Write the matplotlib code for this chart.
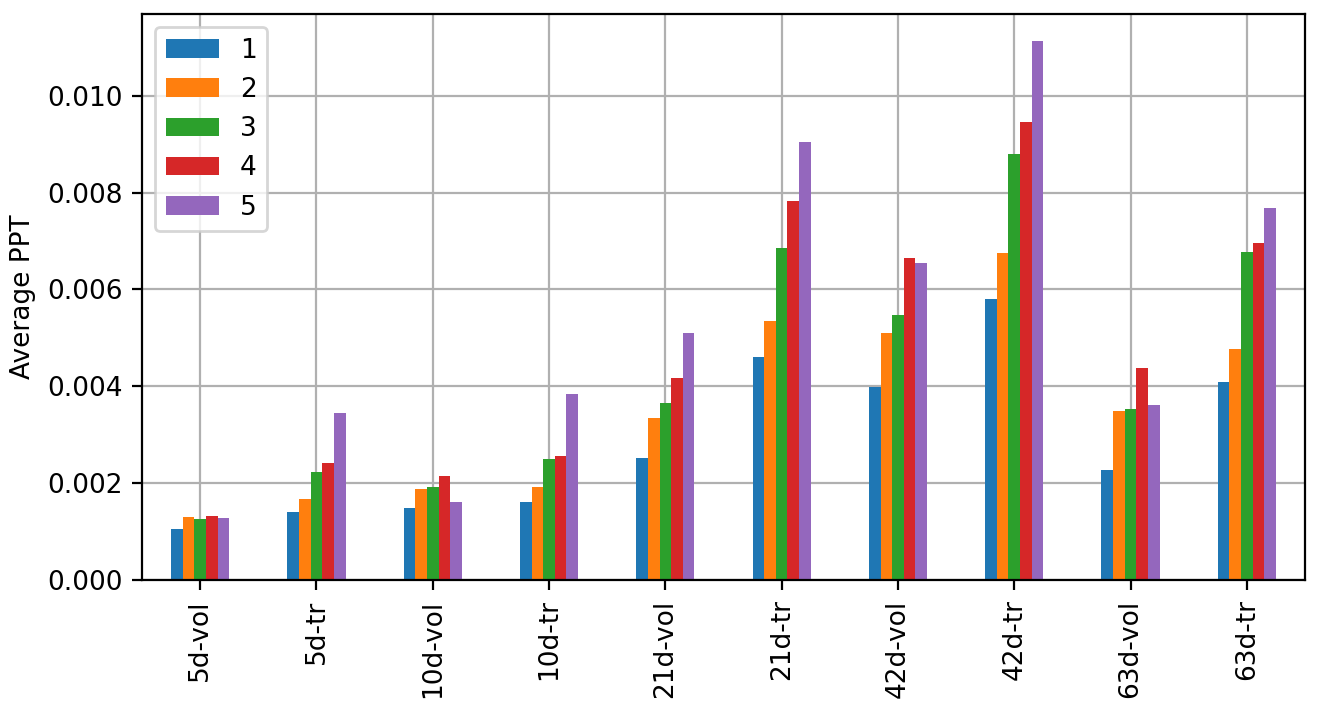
import matplotlib
matplotlib.use("Agg")
import matplotlib.pyplot as plt
import numpy as np

categories = ["5d-vol", "5d-tr", "10d-vol", "10d-tr", "21d-vol", "21d-tr",
              "42d-vol", "42d-tr", "63d-vol", "63d-tr"]
series_names = ["1", "2", "3", "4", "5"]
s1 = [0.00106, 0.00141, 0.00148, 0.00162, 0.00251, 0.00461, 0.00398, 0.00581, 0.00228, 0.00409]
s2 = [0.00131, 0.00168, 0.00187, 0.00191, 0.00335, 0.00535, 0.00510, 0.00675, 0.00348, 0.00477]
s3 = [0.00125, 0.00224, 0.00191, 0.00249, 0.00366, 0.00686, 0.00548, 0.00880, 0.00354, 0.00678]
s4 = [0.00133, 0.00241, 0.00214, 0.00255, 0.00418, 0.00783, 0.00665, 0.00946, 0.00438, 0.00696]
s5 = [0.00127, 0.00344, 0.00162, 0.00385, 0.00510, 0.00904, 0.00655, 0.01113, 0.00362, 0.00768]
series = [s1, s2, s3, s4, s5]
colors = ["#1f77b4", "#ff7f0e", "#2ca02c", "#d62728", "#9467bd"]

plt.rcParams["font.size"] = 9.5

fig = plt.figure(figsize=(6.59, 3.555), dpi=200)
ax = fig.add_axes([142/1318, 1 - 580/711, (1305-142)/1318, (580-14)/711])

x = np.arange(len(categories))
n = len(series)
w = 0.5 / n
for i, (name, vals) in enumerate(zip(series_names, series)):
    ax.bar(x + (i - (n - 1) / 2) * w, vals, width=w, color=colors[i], label=name, zorder=2)

ax.set_xticks(x)
ax.set_xticklabels(categories, rotation=90)
ax.set_xlim(-0.5, len(categories) - 0.5)
ax.set_ylabel("Average PPT")
ax.grid(True, zorder=0)
ax.set_axisbelow(True)
ax.legend(loc="upper left")
fig.savefig("out.png", dpi=200)
